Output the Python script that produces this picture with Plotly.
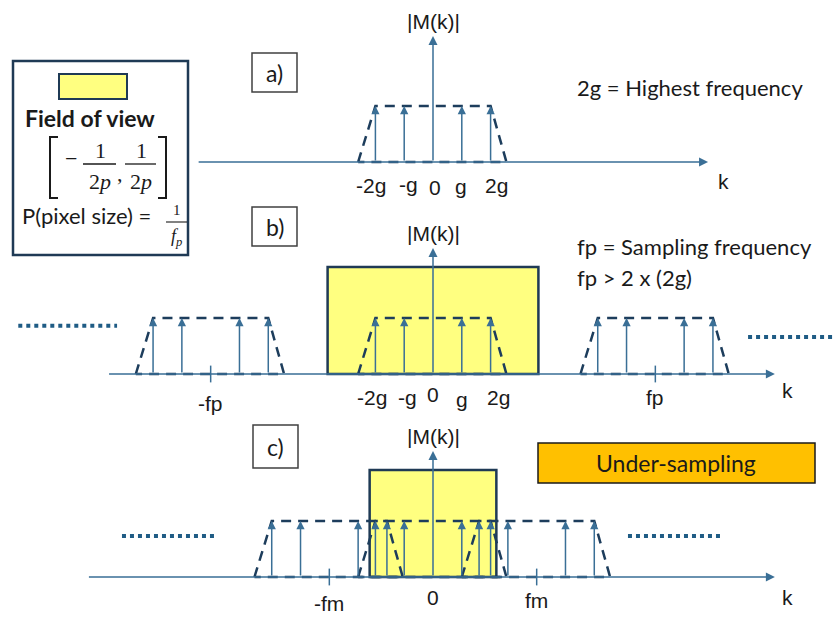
import plotly.graph_objects as go

# ---------------- data (k in units of g, |M| in units of the band height) ----------------
BAND_IMPULSES = [-2, -1, 1, 2]              # lines of one spectrum copy (the k=0 line is the |M| axis)
BAND_EDGE_K = [-2.6, -2.0, 2.0, 2.55, -2.6]  # dashed band envelope
BAND_EDGE_M = [0, 1, 1, 0, 0]
IMPULSE_M = 1.0
G_TICKS = [-2, -1, 0, 1, 2]
G_TICK_TEXT = ["-2g", "-g", "0", "g", "2g"]
FP = 7.72                                   # sampling frequency, panel b
FM = 3.6                                    # sampling frequency, panel c
COPIES_A = [0]
COPIES_B = [-FP, 0, FP]
COPIES_C = [-FM, 0, FM]
FOV_HALF_B = 3.66                           # field of view half width, panel b
FOV_HALF_C = 2.2                            # field of view half width, panel c
FOV_HEIGHT = 1.91
AXIS_TOP = 2.25
K_AXIS_A = [-8.19, 9.55]
K_AXIS_B = [-11.3, 11.87]
K_AXIS_C = [-12.0, 11.87]
DOTS_B = [([-14.4, -10.97], 0.86), ([10.94, 14.0], 0.66)]
DOTS_C = [([-10.8, -7.57], 0.73), ([6.77, 10.07], 0.73)]

# ---------------- styling ----------------
W, H = 836, 617
X_RANGE = [-15.035, 13.993]
UNIT_PX = 56.0
AXIS_C = "#3A6F96"
DASH_C = "#1D3D5C"
TXT_C = "#1A1A1A"
YELLOW = "#FFFF80"
FOV_EDGE = "#1F3A55"
SANS = "Liberation Sans, Arial, sans-serif"
CAL = "Lato, Open Sans, sans-serif"
SERIF = "Liberation Serif, DejaVu Serif, serif"

# baseline (pixel row of the k axis) for each panel
PANELS = {"a": ("y", 162), "b": ("y2", 374), "c": ("y3", 577)}


def yrange(base):
    return [(base - H) / UNIT_PX, base / UNIT_PX]


def px(x):
    return x / W


def py(y):
    return 1 - y / H


fig = go.Figure()
ann = []
shapes = []


def arrow(k0, m0, k1, m1, yref, width=1.5, size=1.1, color=AXIS_C):
    ann.append(dict(x=k1, y=m1, ax=k0, ay=m0, xref="x", yref=yref, axref="x", ayref=yref,
                    text="", showarrow=True, arrowhead=2, arrowsize=size, arrowwidth=width,
                    arrowcolor=color, standoff=0, startstandoff=0))


def panel(name, copies, k_axis, fov_half=None, dots=()):
    yref, base = PANELS[name]
    ylayer = "y" if yref == "y" else yref
    if fov_half is not None:
        shapes.append(dict(type="rect", xref="x", yref=yref, x0=-fov_half, x1=fov_half,
                           y0=0, y1=FOV_HEIGHT, fillcolor=YELLOW,
                           line=dict(color=FOV_EDGE, width=2.5), layer="below"))
    # horizontal k axis
    arrow(k_axis[0], 0, k_axis[1], 0, yref, width=1.5, size=1.2)
    # |M(k)| axis (also the k=0 line)
    arrow(0, 0, 0, AXIS_TOP, yref, width=1.5, size=1.2)
    for c in copies:
        fig.add_trace(go.Scatter(
            x=[c + k for k in BAND_EDGE_K], y=BAND_EDGE_M, yaxis=ylayer, mode="lines",
            line=dict(color=DASH_C, width=2.5, dash="10px,7px"), hoverinfo="skip",
            showlegend=False))
        for k in BAND_IMPULSES:
            arrow(c + k, 0, c + k, IMPULSE_M, yref)
    for (xs, m) in dots:
        fig.add_trace(go.Scatter(x=xs, y=[m, m], yaxis=ylayer, mode="lines",
                                 line=dict(color="#1F5C85", width=4, dash="dot"),
                                 hoverinfo="skip", showlegend=False))
    ann.append(dict(x=0, y=AXIS_TOP, xref="x", yref=yref, text="|M(k)|", showarrow=False,
                    yshift=15, font=dict(family=SANS, size=21, color=TXT_C)))
    return yref


def text(x, y, s, size=21, family=SANS, color=TXT_C, xanchor="center", **kw):
    ann.append(dict(x=px(x), y=py(y), xref="paper", yref="paper", text=s, showarrow=False,
                    xanchor=xanchor, yanchor="middle",
                    font=dict(family=family, size=size, color=color), **kw))


def tick_labels(yref, nudge_x, nudge_y):
    for k, s, dx, dy in zip(G_TICKS, G_TICK_TEXT, nudge_x, nudge_y):
        ann.append(dict(x=k, y=0, xref="x", yref=yref, text=s, showarrow=False,
                        xshift=dx, yshift=-dy, yanchor="middle",
                        font=dict(family=SANS, size=21, color=TXT_C)))


def k_tick(k, yref, label, dy):
    fig.add_trace(go.Scatter(x=[k, k], y=[-0.15, 0.15], yaxis="y" if yref == "y" else yref,
                             mode="lines", line=dict(color=AXIS_C, width=1.5),
                             hoverinfo="skip", showlegend=False))
    ann.append(dict(x=k, y=0, xref="x", yref=yref, text=label, showarrow=False,
                    yshift=-dy, yanchor="middle", font=dict(family=SANS, size=21, color=TXT_C)))


# ---- panel a: band-limited spectrum ----
ya = panel("a", COPIES_A, K_AXIS_A)
tick_labels(ya, [-4, 4, 2, -1, 6], [23, 22, 25, 24, 23])
ann.append(dict(x=K_AXIS_A[1], y=0, xref="x", yref=ya, text="k", showarrow=False,
                xshift=15, yshift=-19, font=dict(family=SANS, size=21, color=TXT_C)))

# ---- panel b: sampling above Nyquist ----
yb = panel("b", COPIES_B, K_AXIS_B, FOV_HALF_B, DOTS_B)
tick_labels(yb, [-3, 3, 0, 0, 8], [23, 23, 20, 25, 23])
k_tick(-FP, yb, "-fp", 29)
k_tick(FP, yb, "fp", 23)
ann.append(dict(x=K_AXIS_B[1], y=0, xref="x", yref=yb, text="k", showarrow=False,
                xshift=13, yshift=-16, font=dict(family=SANS, size=21, color=TXT_C)))

# ---- panel c: under-sampling ----
yc = panel("c", COPIES_C, K_AXIS_C, FOV_HALF_C, DOTS_C)
ann.append(dict(x=0, y=0, xref="x", yref=yc, text="0", showarrow=False, yshift=-20,
                yanchor="middle", font=dict(family=SANS, size=21, color=TXT_C)))
k_tick(-FM, yc, "-fm", 26)
k_tick(FM, yc, "fm", 23)
ann.append(dict(x=K_AXIS_C[1], y=0, xref="x", yref=yc, text="k", showarrow=False,
                xshift=13, yshift=-20, font=dict(family=SANS, size=21, color=TXT_C)))

# ---- panel tags ----
for (x0, y0, x1, y1, s) in [(252, 53, 297, 92, "a)"), (252, 207, 297, 246, "b)"),
                            (253, 425, 298, 468, "c)")]:
    shapes.append(dict(type="rect", xref="paper", yref="paper", x0=px(x0), x1=px(x1),
                       y0=py(y0), y1=py(y1), line=dict(color="#404040", width=1.5)))
    text((x0 + x1) / 2, (y0 + y1) / 2, s, size=23, family=CAL)

# ---- notes on the right ----
text(575, 87, "2g = Highest frequency", size=22, family=CAL, xanchor="left")
text(575, 246, "fp = Sampling frequency", size=22, family=CAL, xanchor="left")
text(575, 277, "fp > 2 x (2g)", size=22, family=CAL, xanchor="left")
shapes.append(dict(type="rect", xref="paper", yref="paper", x0=px(538), x1=px(815),
                   y0=py(443), y1=py(483), fillcolor="#FFC000",
                   line=dict(color="#1A1A1A", width=1.5)))
text(676, 463, "Under-sampling", size=23, family=CAL)

# ---- field-of-view key ----
shapes.append(dict(type="rect", xref="paper", yref="paper", x0=px(13), x1=px(188),
                   y0=py(61), y1=py(255), line=dict(color=FOV_EDGE, width=2.5)))
shapes.append(dict(type="rect", xref="paper", yref="paper", x0=px(59), x1=px(127),
                   y0=py(74), y1=py(99), fillcolor=YELLOW, line=dict(color=FOV_EDGE, width=2)))
text(90, 118, "<b>Field of view</b>", size=23, family=CAL)


def path(points, width=1.6, color=TXT_C):
    d = "M " + " L ".join(f"{px(x)},{py(y)}" for x, y in points)
    shapes.append(dict(type="path", xref="paper", yref="paper", path=d,
                       line=dict(color=color, width=width)))


path([(58, 137), (50, 137), (50, 198), (58, 198)], width=2)
path([(158, 137), (166, 137), (166, 198), (158, 198)], width=2)
text(71, 158, "−", size=22, family=SERIF)
for cx, x0, x1 in [(100, 83, 116), (141, 125, 156)]:
    text(cx, 150, "1", size=22, family=SERIF)
    path([(x0, 164), (x1, 164)], width=1.3)
    text(cx, 181, "2<i>p</i>", size=22, family=SERIF)
text(120, 174, ",", size=22, family=SERIF)
text(86, 216, "P(pixel size) =", size=22, family=CAL)
text(177, 210, "1", size=15, family=SERIF)
path([(166, 222), (187, 222)], width=1.1)
text(176, 238, "<i>f</i><sub><i>p</i></sub>", size=18, family=SERIF)

axis_off = dict(visible=False, fixedrange=True)
fig.update_layout(
    width=W, height=H, margin=dict(l=0, r=0, t=0, b=0),
    paper_bgcolor="white", plot_bgcolor="white", showlegend=False,
    xaxis=dict(range=X_RANGE, **axis_off),
    yaxis=dict(range=yrange(PANELS["a"][1]), **axis_off),
    yaxis2=dict(range=yrange(PANELS["b"][1]), overlaying="y", **axis_off),
    yaxis3=dict(range=yrange(PANELS["c"][1]), overlaying="y", **axis_off),
    annotations=ann, shapes=shapes,
)
fig.write_html("out.html")
